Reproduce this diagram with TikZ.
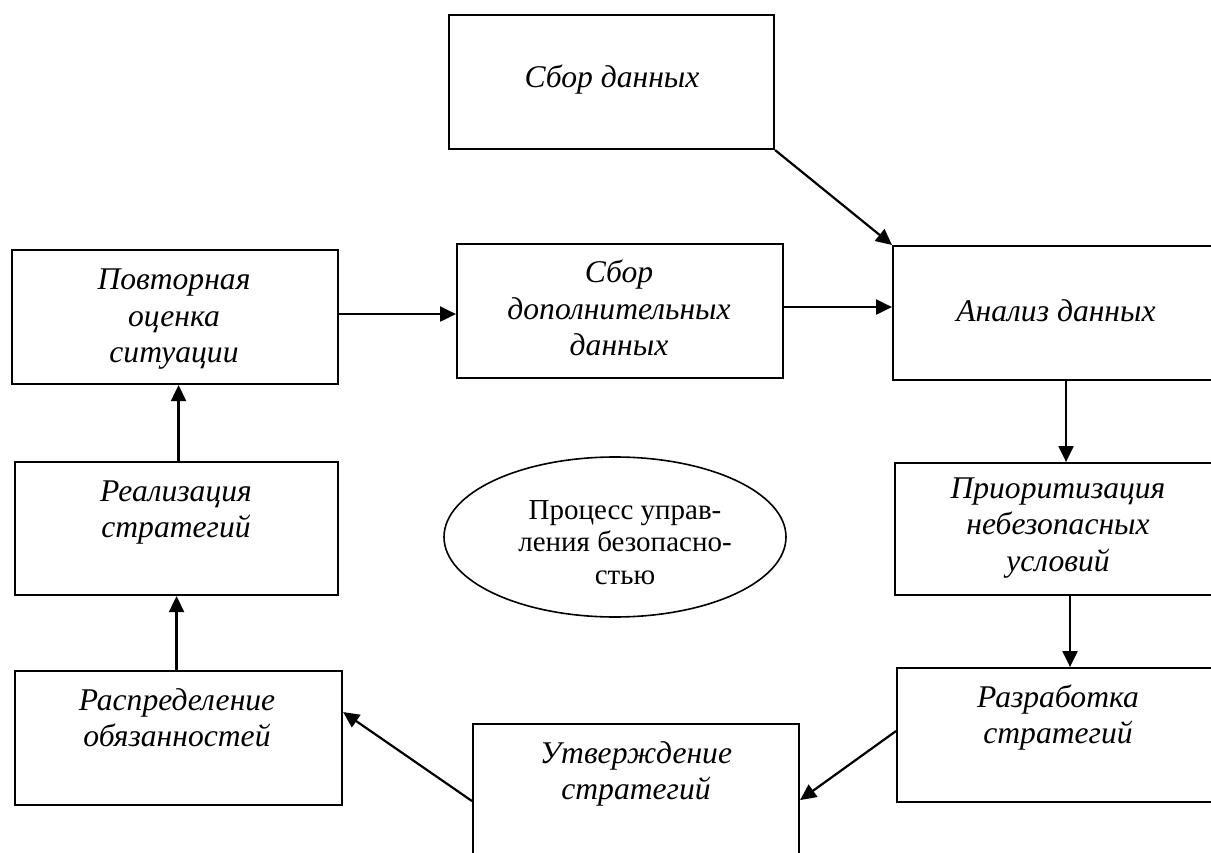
\documentclass[tikz,border=0pt]{standalone}
\usepackage{fontspec}
\setmainfont{Liberation Serif}
\usetikzlibrary{arrows.meta,shapes.geometric}
% multi-line stage caption, anchored at the baseline of its first line
\newcommand\stagetext[1]{\parbox[t]{320pt}{\centering #1}}
\begin{document}
\begin{tikzpicture}[x=1pt,y=-1pt,
  stage/.style={draw, line width=2.1pt, rectangle, inner sep=0pt, anchor=north west},
  stagelabel/.style={anchor=base, inner sep=0pt, font=\fontsize{31.6}{36.5}\selectfont\itshape},
  flow/.style={line width=2.2pt, -{Triangle[length=16pt,width=15pt]}},
]
\useasboundingbox (0,0) rectangle (1211,853);
\clip (0,0) rectangle (1211,853);

% stage boxes
\node[stage, minimum width=325pt, minimum height=134pt] (sbor)   at (448,14)  {};
\node[stage, minimum width=330pt, minimum height=134pt] (analiz) at (892,245) {};
\node[stage, minimum width=326pt, minimum height=134pt] (povt)   at (11,249)  {};
\node[stage, minimum width=326pt, minimum height=134pt] (dop)    at (456,243) {};
\node[stage, minimum width=323pt, minimum height=133pt] (real)   at (14,461)  {};
\node[stage, minimum width=328pt, minimum height=132pt] (prior)  at (894,462) {};
\node[stage, minimum width=326pt, minimum height=134pt] (razr)   at (896,667) {};
\node[stage, minimum width=327pt, minimum height=134pt] (raspr)  at (14,670)  {};
\node[stage, minimum width=326pt, minimum height=150pt] (utv)    at (472,723) {};

% captions
\node[stagelabel] (sbor-t)   at (612,88)   {Сбор данных};
\node[stagelabel] (analiz-t) at (1056,322) {Анализ данных};
\node[stagelabel] (povt-t)   at (174,290)  {\stagetext{Повторная\\оценка\\ситуации}};
\node[stagelabel] (dop-t)    at (619,283)  {\stagetext{Сбор\\дополнительных\\данных}};
\node[stagelabel] (real-t)   at (176,501)  {\stagetext{Реализация\\стратегий}};
\node[stagelabel] (prior-t)  at (1058,498) {\stagetext{Приоритизация\\небезопасных\\условий}};
\node[stagelabel] (razr-t)   at (1058,707) {\stagetext{Разработка\\стратегий}};
\node[stagelabel] (raspr-t)  at (177,710)  {\stagetext{Распределение\\обязанностей}};
\node[stagelabel] (utv-t)    at (636,763)  {\stagetext{Утверждение\\стратегий}};

% central ellipse
\node[draw, ellipse, line width=1.6pt, inner sep=0pt, minimum width=342pt, minimum height=160pt] (proc) at (615,537) {};
\node[anchor=base, inner sep=0pt, font=\fontsize{29}{32.5}\selectfont] (proc-t) at (625,519)
  {\parbox[t]{260pt}{\centering Процесс управ-\\ления безопасно-\\стью}};

% connectors
\draw[flow] (sbor.south east) -- (analiz.north west);

\coordinate (d1) at ([yshift=4pt]dop.east);
\draw[flow] (d1) -- (d1 -| analiz.west);

\coordinate (p1) at ([yshift=3pt]povt.east);
\draw[flow] (p1) -- (p1 -| dop.west);

\coordinate (a1) at ([xshift=8pt]analiz.south);
\draw[flow] (a1) -- (a1 |- prior.north);

\coordinate (r1) at ([xshift=11pt]prior.south);
\draw[flow] (r1) -- (r1 |- razr.north);

\coordinate (z1) at ([yshift=4pt]razr.west);
\coordinate (u1) at ([yshift=-1pt]utv.east);
\draw[flow] (z1) -- (u1);

\coordinate (u2) at ([yshift=-2pt]utv.west);
\coordinate (s1) at ([yshift=26pt]raspr.east);
\draw[flow] (u2) -- (s1);

\coordinate (s2) at ([xshift=-2pt]raspr.north);
\draw[flow] (s2) -- (s2 |- real.south);

\coordinate (e1) at ([xshift=2pt]real.north);
\draw[flow] (e1) -- (e1 |- povt.south);
\end{tikzpicture}
\end{document}
